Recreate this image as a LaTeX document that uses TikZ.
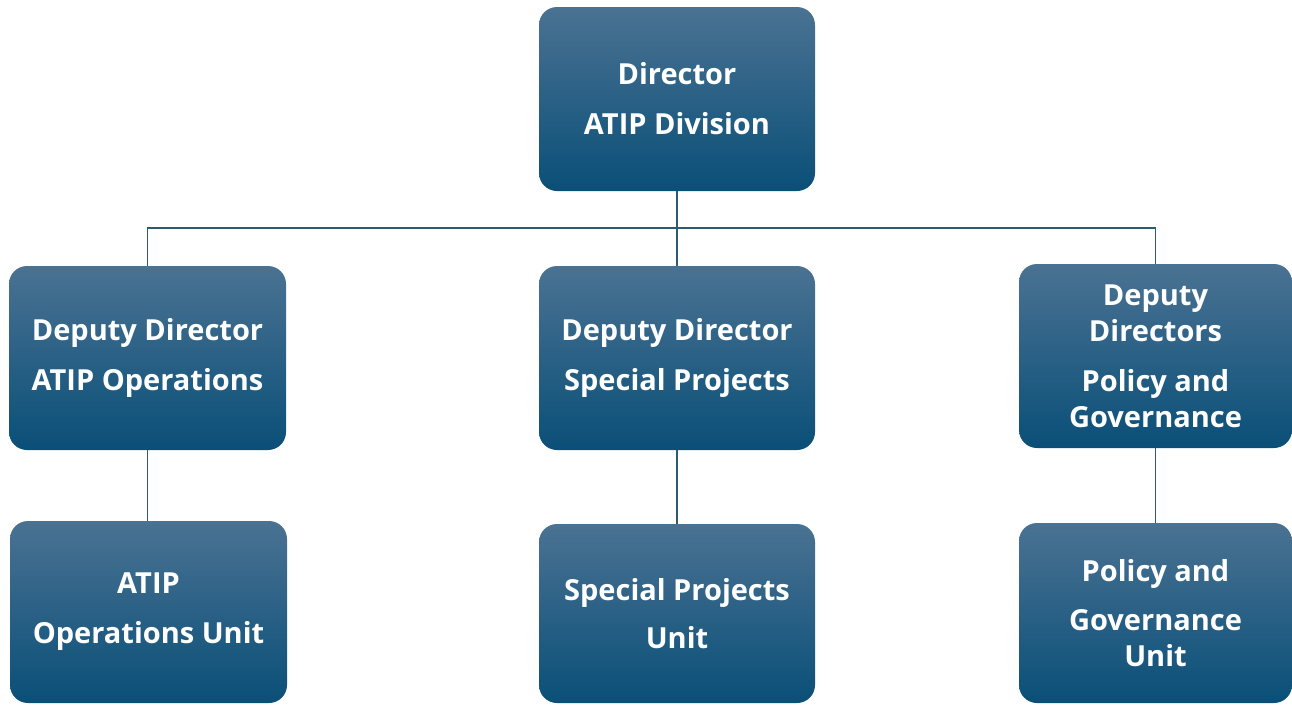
\documentclass[tikz,border=0pt]{standalone}
\usepackage{fontspec}
\setmainfont{Open Sans}
\definecolor{boxtop}{HTML}{4A7292}
\definecolor{boxbot}{HTML}{0A4F78}
\definecolor{wire}{HTML}{2C5B70}
\begin{document}
\begin{tikzpicture}[x=1pt,y=-1pt,
  orgbox/.style={rectangle, rounded corners=18pt, top color=boxtop, bottom color=boxbot,
    draw=none, text=white, align=center, inner sep=0pt,
    font=\bfseries\fontsize{29}{36}\selectfont},
  wirel/.style={draw=wire, line width=1.3pt}]
\useasboundingbox (0,0) rectangle (1292,704);
\node[orgbox, minimum width=276pt, minimum height=184pt] (dir) at (677,99) {Director\\[14pt]ATIP Division};
\node[orgbox, minimum width=277pt, minimum height=184pt] (d1) at (147.5,358) {Deputy Director\\[14pt]ATIP Operations};
\node[orgbox, minimum width=276pt, minimum height=184pt] (d2) at (677,358) {Deputy Director\\[14pt]Special Projects};
\node[orgbox, minimum width=273pt, minimum height=184pt] (d3) at (1155.5,356) {Deputy\\Directors\\[14pt]Policy and\\Governance};
\node[orgbox, minimum width=277pt, minimum height=182pt] (u1) at (148.5,612) {ATIP\\[14pt]Operations Unit};
\node[orgbox, minimum width=276pt, minimum height=179pt] (u2) at (677,613.5) {Special Projects\\[12pt]Unit};
\node[orgbox, minimum width=273pt, minimum height=180pt] (u3) at (1155.5,613) {Policy and\\[13pt]Governance\\Unit};
\coordinate (bus) at (677,228);
\draw[wirel] (dir.south) -- (bus);
\draw[wirel] (d1.north) |- (bus) -| (d3.north);
\draw[wirel] (d2.north) -- (bus);
\draw[wirel] (d1.south) -- (u1.north -| d1.south);
\draw[wirel] (d2.south) -- (u2.north);
\draw[wirel] (d3.south) -- (u3.north);
\end{tikzpicture}
\end{document}
